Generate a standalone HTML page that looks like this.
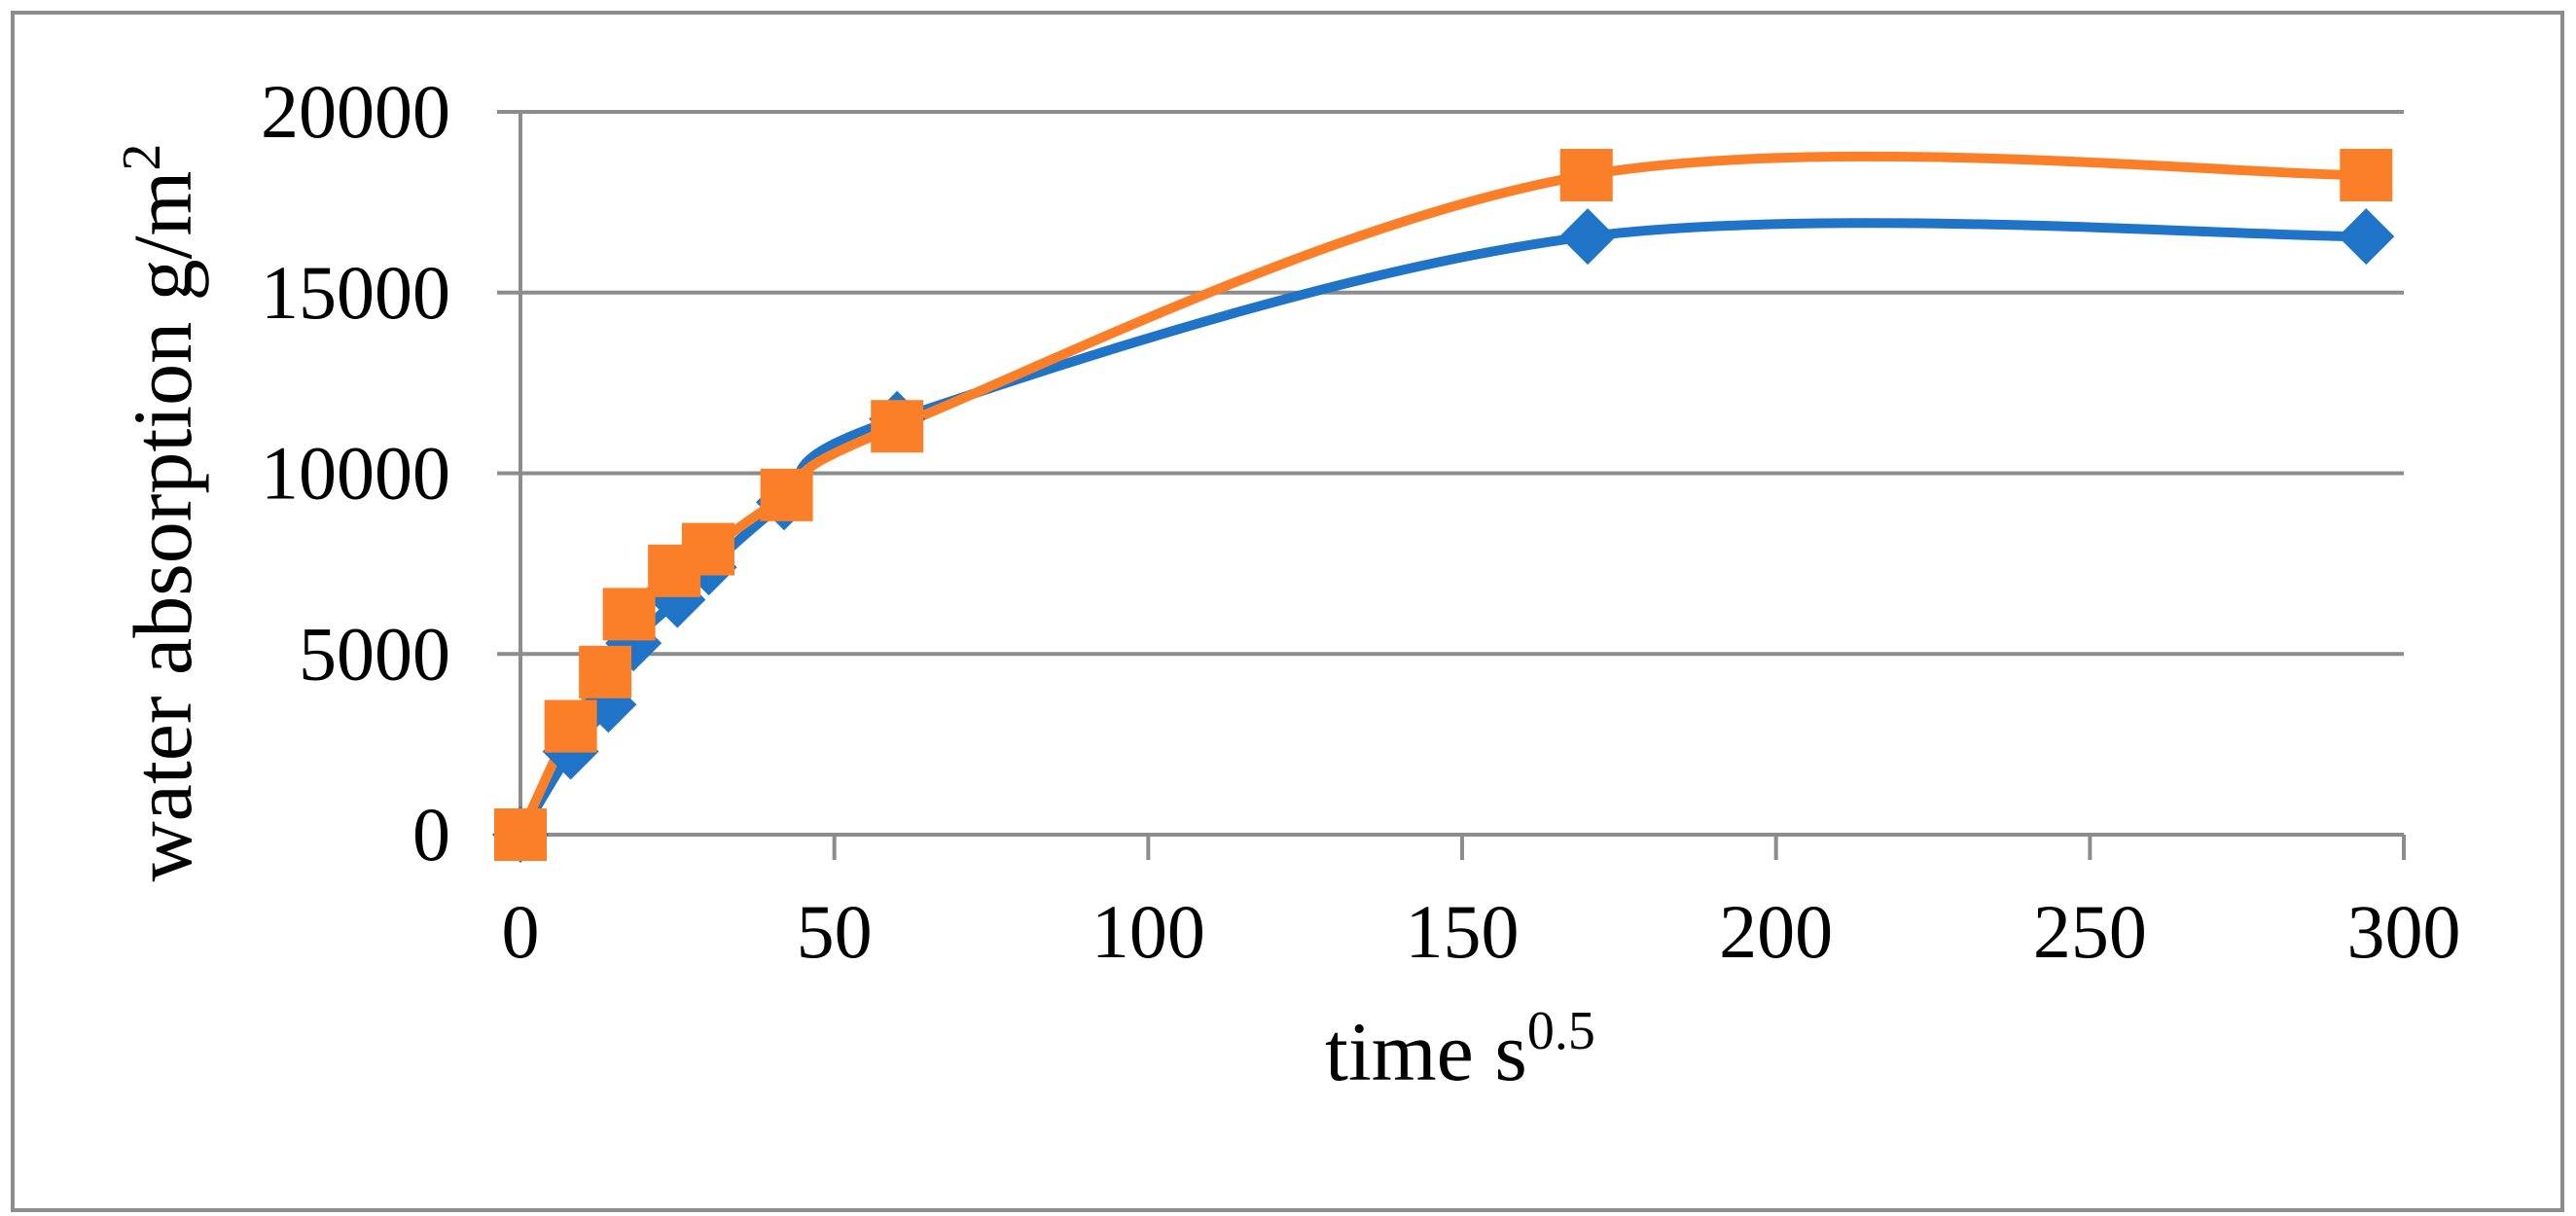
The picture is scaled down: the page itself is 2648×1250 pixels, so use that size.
<!DOCTYPE html>
<html><head><meta charset="utf-8"><style>
html,body{margin:0;padding:0;background:#fff;}
svg{display:block;font-family:"Liberation Serif",serif;}
</style></head><body>
<svg id="chart" width="2648" height="1250">
<rect x="13" y="13" width="2621" height="1231" fill="#fff" stroke="#8c8c8c" stroke-width="4"/>
<g id="grid"></g><g id="axes"></g><g id="series"></g>
<text x="196" y="527" font-size="86" text-anchor="middle" transform="rotate(-90 196 527)">water absorption g/m<tspan dy="-32" font-size="56">2</tspan></text>
<text x="1362" y="1110" font-size="86">time s<tspan dy="-32" font-size="56">0.5</tspan></text>
</svg>
<script>
const xTicks=[0,50,100,150,200,250,300];
const yTicks=[0,5000,10000,15000,20000];
const blueX=[0,8,14,18,25,30,42,60,170,294];
const blueY=[0,2300,3600,5300,6500,7400,9200,11500,16550,16550];
const orangeX=[0,8,13.5,17.3,24.5,29.9,42.4,60,169.8,294];
const orangeY=[0,3000,4500,6100,7300,7900,9400,11300,18250,18250];
const NS="http://www.w3.org/2000/svg";
const X0=535,X1=2471,Y0=858,Y1=115;
const sx=v=>X0+(v/300)*(X1-X0);
const sy=v=>Y0-(v/20000)*(Y0-Y1);
function mk(tag,attrs,parent){const e=document.createElementNS(NS,tag);for(const k in attrs)e.setAttribute(k,attrs[k]);parent.appendChild(e);return e;}
const grid=document.getElementById('grid'),axes=document.getElementById('axes'),ser=document.getElementById('series');
yTicks.forEach(t=>{
  const l=mk('line',{x1:511,x2:X1,y1:sy(t),y2:sy(t),stroke:'#8c8c8c','stroke-width':4},grid);
  
  
  const tx=mk('text',{x:463,y:sy(t)+26,'font-size':78,'text-anchor':'end'},axes);
  tx.textContent=t;
  
  
});
const ax=mk('line',{x1:X0,x2:X0,y1:Y1,y2:Y0,stroke:'#8c8c8c','stroke-width':4},axes);


xTicks.forEach(t=>{
  const l=mk('line',{x1:sx(t),x2:sx(t),y1:Y0,y2:Y0+26,stroke:'#8c8c8c','stroke-width':4},axes);
  
  
  const tx=mk('text',{x:sx(t),y:984,'font-size':78,'text-anchor':'middle'},axes);
  tx.textContent=t;
  
  
});
function smooth(xs,ys){
  const p=xs.map((x,i)=>[sx(x),sy(ys[i])]);
  let d=`M${p[0][0]},${p[0][1]}`;
  for(let i=0;i<p.length-1;i++){
    const p0=p[Math.max(0,i-1)],p1=p[i],p2=p[i+1],p3=p[Math.min(p.length-1,i+2)];
    const c1=[p1[0]+(p2[0]-p0[0])/6,p1[1]+(p2[1]-p0[1])/6];
    const c2=[p2[0]-(p3[0]-p1[0])/6,p2[1]-(p3[1]-p1[1])/6];
    d+=` C${c1[0]},${c1[1]} ${c2[0]},${c2[1]} ${p2[0]},${p2[1]}`;
  }
  return d;
}
const bl=mk('path',{d:smooth(blueX,blueY),fill:'none',stroke:'#1f74c8','stroke-width':10},ser);


const ol=mk('path',{d:smooth(orangeX,orangeY),fill:'none',stroke:'#fb7f28','stroke-width':10},ser);


blueX.forEach((x,i)=>{
  const cx=sx(x),cy=sy(blueY[i]),r=29;
  const m=mk('polygon',{points:`${cx},${cy-r} ${cx+r},${cy} ${cx},${cy+r} ${cx-r},${cy}`,fill:'#1f74c8'},ser);
  
  
});
orangeX.forEach((x,i)=>{
  const cx=sx(x),cy=sy(orangeY[i]),s=54;
  const m=mk('rect',{x:cx-s/2,y:cy-s/2,width:s,height:s,fill:'#fb7f28'},ser);
  
  
});
</script>
</body></html>
